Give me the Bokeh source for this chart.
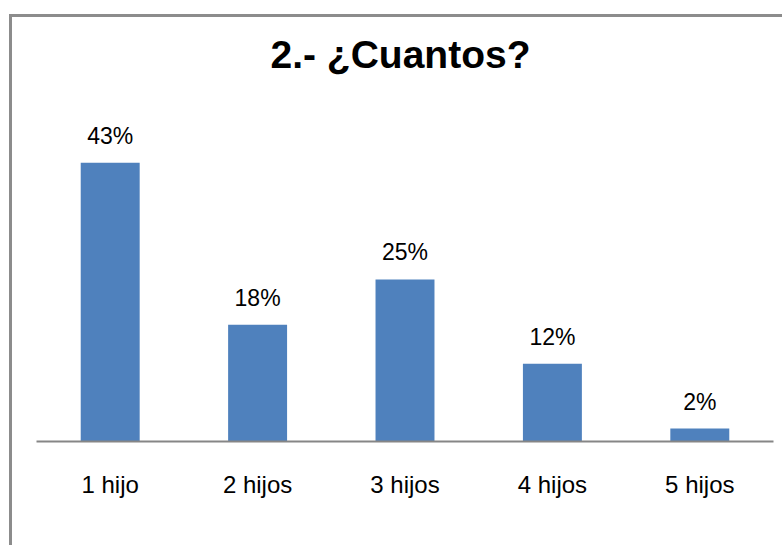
from bokeh.plotting import figure
from bokeh.models import ColumnDataSource, FactorRange, Range1d
from bokeh.core.properties import value
from bokeh.embed import file_html
from bokeh.resources import INLINE

categories = ["1 hijo", "2 hijos", "3 hijos", "4 hijos", "5 hijos"]
percentages = [43, 18, 25, 12, 2]
labels = ["43%", "18%", "25%", "12%", "2%"]

source = ColumnDataSource(data=dict(cat=categories, val=percentages, lab=labels))

W, H = 782, 545
p = figure(
    width=W, height=H,
    x_range=FactorRange(*categories, range_padding=0),
    y_range=Range1d(0, 55.7),
    output_backend="svg", toolbar_location=None,
    min_border_left=36, min_border_right=9, min_border_top=80, min_border_bottom=104,
    title="2.- ¿Cuantos?",
)

# gray chart border on the top and left edges, drawn behind a transparent outer area
border = "#8c8c8c"
p.styles = {
    "background": (
        f"linear-gradient({border},{border}) 9px 14px / 100% 3px no-repeat, "
        f"linear-gradient({border},{border}) 9px 14px / 3px 100% no-repeat, white"
    )
}
p.border_fill_alpha = 0
p.background_fill_color = "white"

p.title.align = "left"
p.title.offset = 234
p.title.text_font = "Liberation Sans"
p.title.text_font_style = "bold"
p.title.text_font_size = "39px"
p.title.text_color = "#000000"
p.title.standoff = 10

p.vbar(x="cat", top="val", width=0.4, source=source,
       fill_color="#4F81BD", line_color=None)

p.text(x="cat", y="val", text="lab", source=source,
       text_align="center", text_baseline="alphabetic", y_offset=-27,
       text_font=value("Liberation Sans"), text_font_size="23px",
       text_color="#000000")

p.yaxis.visible = False
p.xaxis.axis_line_color = "#868686"
p.xaxis.axis_line_width = 2
p.xaxis.major_tick_line_color = None
p.xaxis.minor_tick_line_color = None
p.xaxis.major_label_text_font = "Liberation Sans"
p.xaxis.major_label_text_font_size = "24px"
p.xaxis.major_label_text_color = "#000000"
p.xaxis.major_label_standoff = 23

p.xgrid.grid_line_color = None
p.ygrid.grid_line_color = None
p.outline_line_color = None

open("out.html", "w").write(file_html(p, INLINE))
